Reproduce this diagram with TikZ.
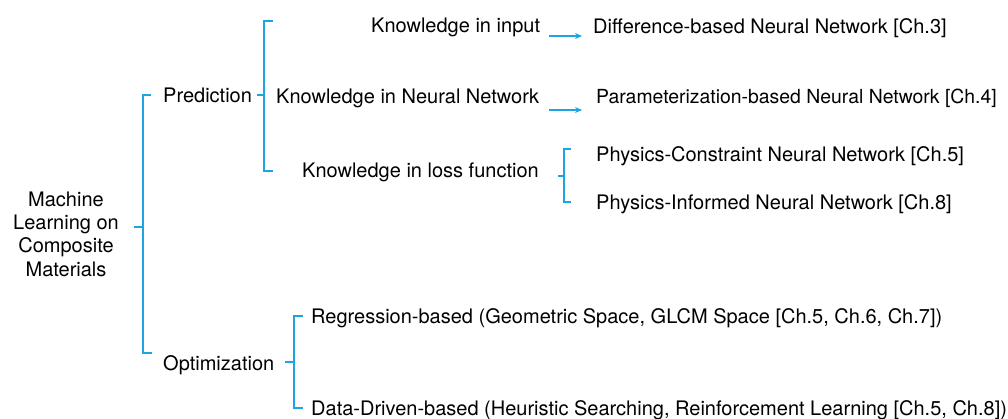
\documentclass[tikz,border=0pt]{standalone}
\usepackage{fontspec}
\setmainfont{TeX Gyre Heros}
\usetikzlibrary{arrows.meta}
\definecolor{treeblue}{HTML}{1BA6E0}
\tikzset{
  lbl/.style={anchor=base west, inner sep=0pt, font=\fontsize{20}{24}\selectfont},
  brace/.style={draw=treeblue, line width=1.6pt},
  link/.style={draw=treeblue, line width=1.6pt, -{Stealth[length=7pt,width=6pt]}}
}
\begin{document}
\begin{tikzpicture}[x=1pt,y=-1pt]
\useasboundingbox (0,0) rectangle (1008,418);

% root (base anchor sits on the last line)
\node[inner sep=0pt, anchor=base, align=center,
      font=\fontsize{20}{23.3}\selectfont] (root) at (66,276)
  {Machine\\Learning on\\Composite\\Materials};

% first level
\node[lbl] (pred) at (163,102) {Prediction};
\node[lbl] (opt)  at (163,370) {Optimization};

% prediction branch
\node[lbl] (kin)  at (371,32)  {Knowledge in input};
\node[lbl] (knn)  at (276,103) {Knowledge in Neural Network};
\node[lbl] (kloss) at (302,177) {Knowledge in loss function};
\node[lbl] (diff) at (593,33)  {Difference-based Neural Network [Ch.3]};
\node[lbl, font=\fontsize{19.4}{24}\selectfont] (param) at (596,103) {Parameterization-based Neural Network [Ch.4]};
\node[lbl] (pcnn) at (596,161) {Physics-Constraint Neural Network [Ch.5]};
\node[lbl] (pinn) at (596,209) {Physics-Informed Neural Network [Ch.8]};

% optimization branch
\node[lbl] (reg) at (311,323) {Regression-based (Geometric Space, GLCM Space [Ch.5, Ch.6, Ch.7])};
\node[lbl] (dd)  at (311,415) {Data-Driven-based (Heuristic Searching, Reinforcement Learning [Ch.5, Ch.8])};

% root bracket
\coordinate (b0) at (143,227);
\draw[brace] (151,95) -- (143,95) -- (143,353) -- (152,353);
\draw[brace] (134,227) -- (b0);

% prediction bracket
\coordinate (b1) at (264,95);
\draw[brace] (273,21) -- (264,21) -- (264,171) -- (273,171);
\draw[brace] (257,95) -- (b1);

% loss-function bracket
\coordinate (b2) at (564,176);
\draw[brace] (571,149) -- (564,149) -- (564,202) -- (571,202);
\draw[brace] (558,176) -- (b2);

% optimization bracket
\coordinate (b3) at (294,362);
\draw[brace] (303,316) -- (294,316) -- (294,408) -- (303,408);
\draw[brace] (285,362) -- (b3);

% arrows
\draw[link] ([xshift=9pt,yshift=-4pt]kin.base east) -- ([xshift=-11pt,yshift=-4pt]kin.base east -| diff.west);
\draw[link] ([xshift=10pt,yshift=-7pt]knn.base east) -- ([xshift=-14pt,yshift=-7pt]knn.base east -| param.west);
\end{tikzpicture}
\end{document}
